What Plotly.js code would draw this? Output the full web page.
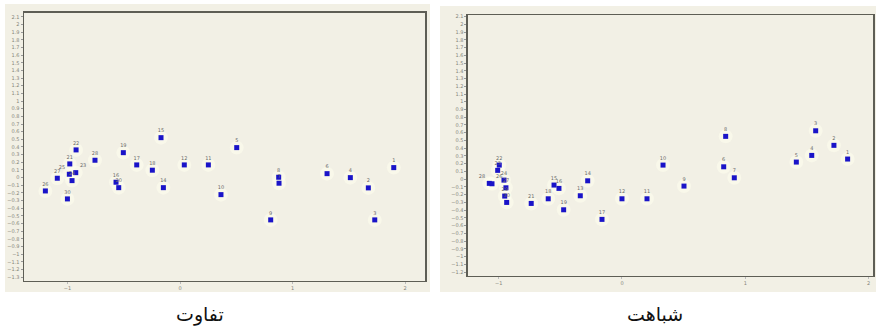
<!DOCTYPE html>
<html>
<head>
<meta charset="utf-8">
<script src="https://cdn.plot.ly/plotly-3.0.1.min.js"></script>
<style>html,body{margin:0;padding:0;background:#fff;}#chart{width:876px;height:329px;}</style>
</head>
<body>
<div id="chart"></div>
<script>
// Left panel: تفاوت (difference)
const diffLabels = ["22","19","28","21","17","12","11","18","27","25","23","24","16","20","14","26","30","10","15","5","8","7","9","6","4","2","3","1"];
const diffX = [-0.924,-0.504,-0.756,-0.980,-0.385,0.038,0.252,-0.246,-1.091,-0.984,-0.927,-0.960,-0.569,-0.545,-0.148,-1.197,-1.001,0.364,-0.169,0.504,0.877,0.880,0.806,1.307,1.514,1.674,1.731,1.900];
const diffY = [0.362,0.326,0.227,0.179,0.166,0.166,0.166,0.097,-0.008,0.044,0.065,-0.039,-0.060,-0.131,-0.131,-0.174,-0.278,-0.222,0.522,0.392,0.005,-0.073,-0.552,0.052,0.000,-0.134,-0.552,0.131];

// Right panel: شباهت (similarity)
const simLabels = ["22","23","28","26","24","27","29","30","21","15","16","18","19","13","14","17","12","11","10","9","8","6","7","5","4","3","2","1"];
const simX = [-0.995,-1.008,-1.076,-1.054,-0.957,-0.941,-0.951,-0.935,-0.736,-0.551,-0.511,-0.598,-0.473,-0.338,-0.278,-0.162,0.000,0.203,0.333,0.503,0.841,0.825,0.911,1.414,1.539,1.571,1.719,1.830];
const simY = [0.182,0.114,-0.054,-0.059,-0.012,-0.111,-0.218,-0.300,-0.313,-0.076,-0.119,-0.253,-0.395,-0.214,-0.021,-0.519,-0.253,-0.253,0.182,-0.089,0.553,0.160,0.018,0.221,0.307,0.625,0.437,0.260];

const xTicks = [-1,0,1,2];
const panelTitles = ["تفاوت","شباهت"];

function halo(x,y,xa,ya){
  return {x:x,y:y,xaxis:xa,yaxis:ya,type:'scatter',mode:'markers',hoverinfo:'skip',
    marker:{symbol:'circle',size:14,color:'rgba(255,255,240,0.5)',line:{width:0}},showlegend:false};
}
function pts(x,y,t,xa,ya,pos){
  return {x:x,y:y,text:t,xaxis:xa,yaxis:ya,type:'scatter',mode:'markers+text',
    textposition:pos,textfont:{size:5,color:'#6a6a6a',family:'DejaVu Sans'},
    marker:{symbol:'square',size:5,color:'#1a14c8',line:{width:0}},showlegend:false,cliponaxis:false};
}
const diffPos = diffLabels.map(l => l==='25' ? 'top left' : (l==='23' ? 'top right' : 'top center'));
const simPos = simLabels.map(l => l==='28' ? 'top left' : (l==='26' ? 'top right' : 'top center'));

const data = [
  halo(diffX,diffY,'x','y'), pts(diffX,diffY,diffLabels,'x','y',diffPos),
  halo(simX,simY,'x2','y2'), pts(simX,simY,simLabels,'x2','y2',simPos)
];

const axY = {dtick:0.1,tick0:0,ticks:'outside',ticklen:2,tickcolor:'#999',
  tickfont:{size:5,color:'#85857a',family:'DejaVu Sans'},showgrid:false,zeroline:false,
  showline:true,mirror:true,linecolor:'#5e5e55',linewidth:1.5,fixedrange:true};
const axX = {tickvals:xTicks,ticks:'outside',ticklen:2,tickcolor:'#bbb',
  tickfont:{size:5,color:'#85857a',family:'DejaVu Sans'},showgrid:false,zeroline:false,
  showline:true,mirror:true,linecolor:'#5e5e55',linewidth:1.5,fixedrange:true};

const layout = {
  width:876,height:329,margin:{l:0,r:0,t:0,b:0},
  paper_bgcolor:'#ffffff',plot_bgcolor:'#eeebdc',
  xaxis:Object.assign({},axX,{domain:[0.0274,0.4852],range:[-1.387,2.178]}),
  yaxis:Object.assign({},axY,{domain:[0.1459,0.9605],range:[-1.35,2.15]}),
  xaxis2:Object.assign({},axX,{domain:[0.5342,0.9966],range:[-1.249,2.036],anchor:'y2'}),
  yaxis2:Object.assign({},axY,{domain:[0.1611,0.9544],range:[-1.25,2.12],anchor:'x2'}),
  shapes:[
    {type:'rect',xref:'paper',yref:'paper',x0:5/876,x1:430/876,y0:1-292/329,y1:1-4/329,
     fillcolor:'#f2f0e5',line:{width:0},layer:'below'},
    {type:'rect',xref:'paper',yref:'paper',x0:440/876,x1:1,y0:1-292/329,y1:1-6/329,
     fillcolor:'#f2f0e5',line:{width:0},layer:'below'}
  ],
  annotations:[
    {text:panelTitles[0],xref:'paper',yref:'paper',x:200/876,y:1-314/329,showarrow:false,
     xanchor:'center',yanchor:'middle',font:{size:19,color:'#111',family:'DejaVu Sans'}},
    {text:panelTitles[1],xref:'paper',yref:'paper',x:655/876,y:1-314/329,showarrow:false,
     xanchor:'center',yanchor:'middle',font:{size:19,color:'#111',family:'DejaVu Sans'}}
  ]
};

Plotly.newPlot('chart',data,layout,{displayModeBar:false,staticPlot:true});
</script>
</body>
</html>
